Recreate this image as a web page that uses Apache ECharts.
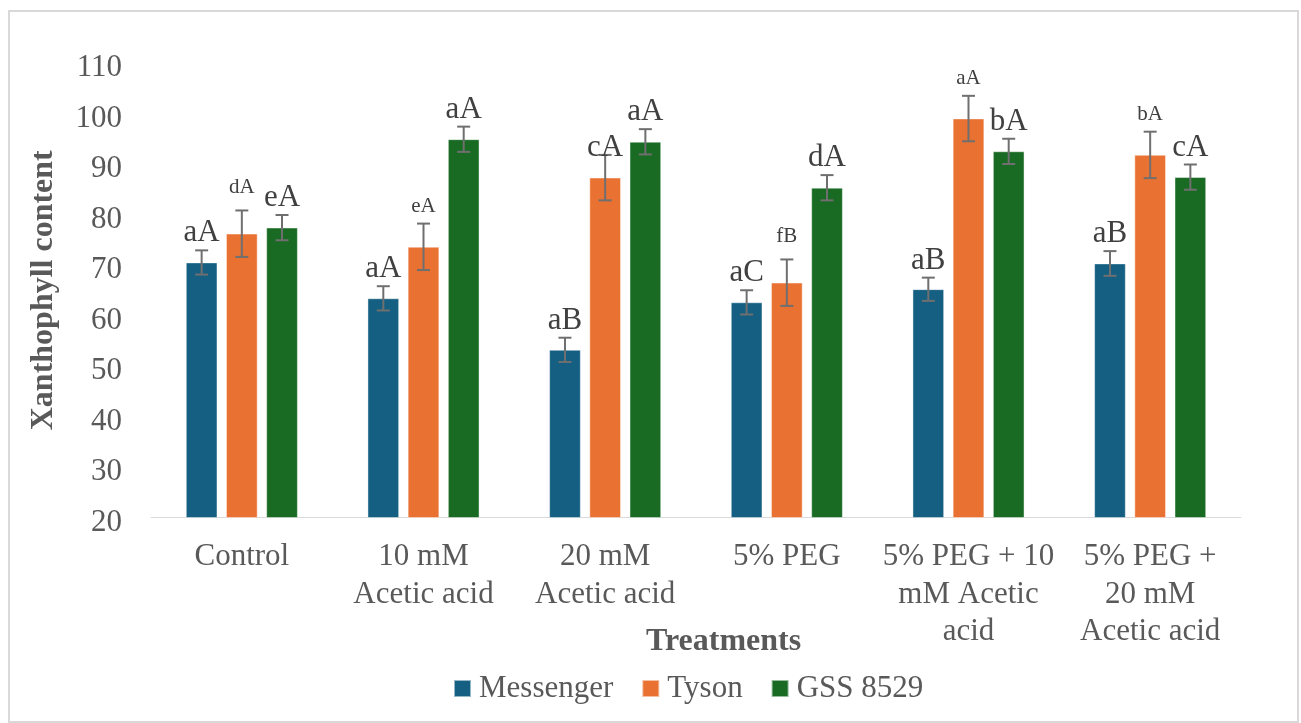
<!DOCTYPE html>
<html>
<head>
<meta charset="utf-8">
<title>Xanthophyll content by treatment</title>
<script src="https://cdn.jsdelivr.net/npm/echarts@6/dist/echarts.min.js"></script>
<style>
  html, body { margin: 0; padding: 0; background: #ffffff; }
  #chart { width: 1301px; height: 723px; }
</style>
</head>
<body>
<div id="chart"></div>
<script>
// ---- data ----
const categories = [
  'Control',
  '10 mM\nAcetic acid',
  '20 mM\nAcetic acid',
  '5% PEG',
  '5% PEG + 10\nmM Acetic\nacid',
  '5% PEG +\n20 mM\nAcetic acid'
];
const seriesNames = ['Messenger', 'Tyson', 'GSS 8529'];

const messengerMean = [70.5, 63.4, 53.2, 62.6, 65.2, 70.3];
const tysonMean     = [76.2, 73.6, 87.3, 66.5, 99.0, 91.8];
const gssMean       = [77.4, 94.9, 94.4, 85.3, 92.5, 87.4];

const messengerSD = [2.4, 2.4, 2.4, 2.4, 2.3, 2.45];
const tysonSD     = [4.6, 4.6, 4.5, 4.6, 4.5, 4.6];
const gssSD       = [2.5, 2.5, 2.5, 2.5, 2.5, 2.5];

const messengerLetters = ['aA', 'aA', 'aB', 'aC', 'aB', 'aB'];
const tysonLetters     = ['dA', 'eA', 'cA', 'fB', 'aA', 'bA'];
const gssLetters       = ['eA', 'aA', 'aA', 'dA', 'bA', 'cA'];

const yTicks = { min: 20, max: 110, interval: 10 };

// ---- styling ----
const FONT = "'Liberation Serif', 'Times New Roman', serif";
const COLORS = ['#156082', '#E97132', '#196B24'];
const TEXT_GRAY = '#595959';
const LABEL_GRAY = '#404040';
const ERR_GRAY = '#6f6f6f';
const BAR_W = 31.5;
const BAR_GAP = 0.276;
const BIG_LABEL = 31;
const SMALL_LABEL = 21;
// letter labels drawn in the smaller size: [series index, category index]
const smallLabelKeys = new Set(['1-0', '1-1', '1-3', '1-4', '1-5']);
// extra vertical nudge (px) for a few letter labels
const labelNudge = { '1-0': -6, '1-3': -6, '1-2': 10 };

const means = [messengerMean, tysonMean, gssMean];
const sds = [messengerSD, tysonSD, gssSD];
const letters = [messengerLetters, tysonLetters, gssLetters];

const chart = echarts.init(document.getElementById('chart'), null, { renderer: 'canvas' });

const barSeries = seriesNames.map((name, i) => ({
  name,
  type: 'bar',
  data: means[i],
  barWidth: BAR_W,
  barGap: (BAR_GAP * 100) + '%',
  itemStyle: { color: COLORS[i], borderColor: 'rgba(255,255,255,0.55)', borderWidth: 0.8 },
  emphasis: { disabled: true },
  z: 2
}));

const errSeries = seriesNames.map((name, i) => ({
  name: name + ' error',
  type: 'custom',
  data: means[i].map((m, j) => [j, m, sds[i][j]]),
  encode: { x: 0, y: 1 },
  z: 5,
  silent: true,
  renderItem: function (params, api) {
    const j = api.value(0);
    const m = api.value(1);
    const sd = api.value(2);
    const off = (i - 1) * BAR_W * (1 + BAR_GAP);
    const top = api.coord([j, m + sd]);
    const bot = api.coord([j, m - sd]);
    const x = top[0] + off;
    const cap = 6.5;
    const key = i + '-' + j;
    const small = smallLabelKeys.has(key);
    const ly = top[1] - 17 + (labelNudge[key] || 0);
    const lineStyle = { stroke: ERR_GRAY, lineWidth: 2 };
    return {
      type: 'group',
      children: [
        { type: 'line', shape: { x1: x, y1: top[1], x2: x, y2: bot[1] }, style: lineStyle },
        { type: 'line', shape: { x1: x - cap, y1: top[1], x2: x + cap, y2: top[1] }, style: lineStyle },
        { type: 'line', shape: { x1: x - cap, y1: bot[1], x2: x + cap, y2: bot[1] }, style: lineStyle },
        {
          type: 'text',
          z2: 10,
          style: {
            text: letters[i][j],
            x: x,
            y: ly,
            align: 'center',
            verticalAlign: 'middle',
            font: (small ? SMALL_LABEL : BIG_LABEL) + 'px ' + FONT,
            fill: LABEL_GRAY
          }
        }
      ]
    };
  }
}));

const option = {
  backgroundColor: '#ffffff',
  animation: false,
  grid: { left: 151, right: 60, top: 63, bottom: 205.5, containLabel: false },
  legend: {
    data: seriesNames,
    left: 448,
    top: 668,
    itemWidth: 17,
    itemHeight: 17,
    itemGap: 28,
    icon: 'rect',
    textStyle: { fontFamily: FONT, fontSize: 31, color: TEXT_GRAY, padding: [0, 0, 0, 3] }
  },
  xAxis: {
    type: 'category',
    data: categories,
    axisLine: { show: true, lineStyle: { color: '#d9d9d9', width: 1 } },
    axisTick: { show: false },
    axisLabel: {
      fontFamily: FONT,
      fontSize: 31,
      color: TEXT_GRAY,
      lineHeight: 37.5,
      margin: 21,
      interval: 0,
      align: 'center',
      verticalAlign: 'top'
    }
  },
  yAxis: {
    type: 'value',
    min: yTicks.min,
    max: yTicks.max,
    interval: yTicks.interval,
    name: 'Xanthophyll content',
    nameLocation: 'middle',
    nameGap: 91,
    nameRotate: 90,
    nameTextStyle: { fontFamily: FONT, fontSize: 32, fontWeight: 'bold', color: TEXT_GRAY },
    axisLine: { show: false },
    axisTick: { show: false },
    splitLine: { show: false },
    // tick numbers sit a few pixels below their tick positions
    axisLabel: {
      fontFamily: FONT, fontSize: 31, color: TEXT_GRAY, margin: 29,
      verticalAlign: 'top', lineHeight: 10
    }
  },
  graphic: [
    {
      type: 'rect',
      shape: { x: 9, y: 11, width: 1289, height: 711 },
      style: { fill: 'none', stroke: '#d9d9d9', lineWidth: 2 },
      silent: true
    },
    {
      type: 'text',
      left: 646,
      top: 626,
      style: {
        text: 'Treatments',
        font: 'bold 32px ' + FONT,
        fill: TEXT_GRAY
      }
    }
  ],
  series: barSeries.concat(errSeries)
};

chart.setOption(option);
</script>
</body>
</html>
